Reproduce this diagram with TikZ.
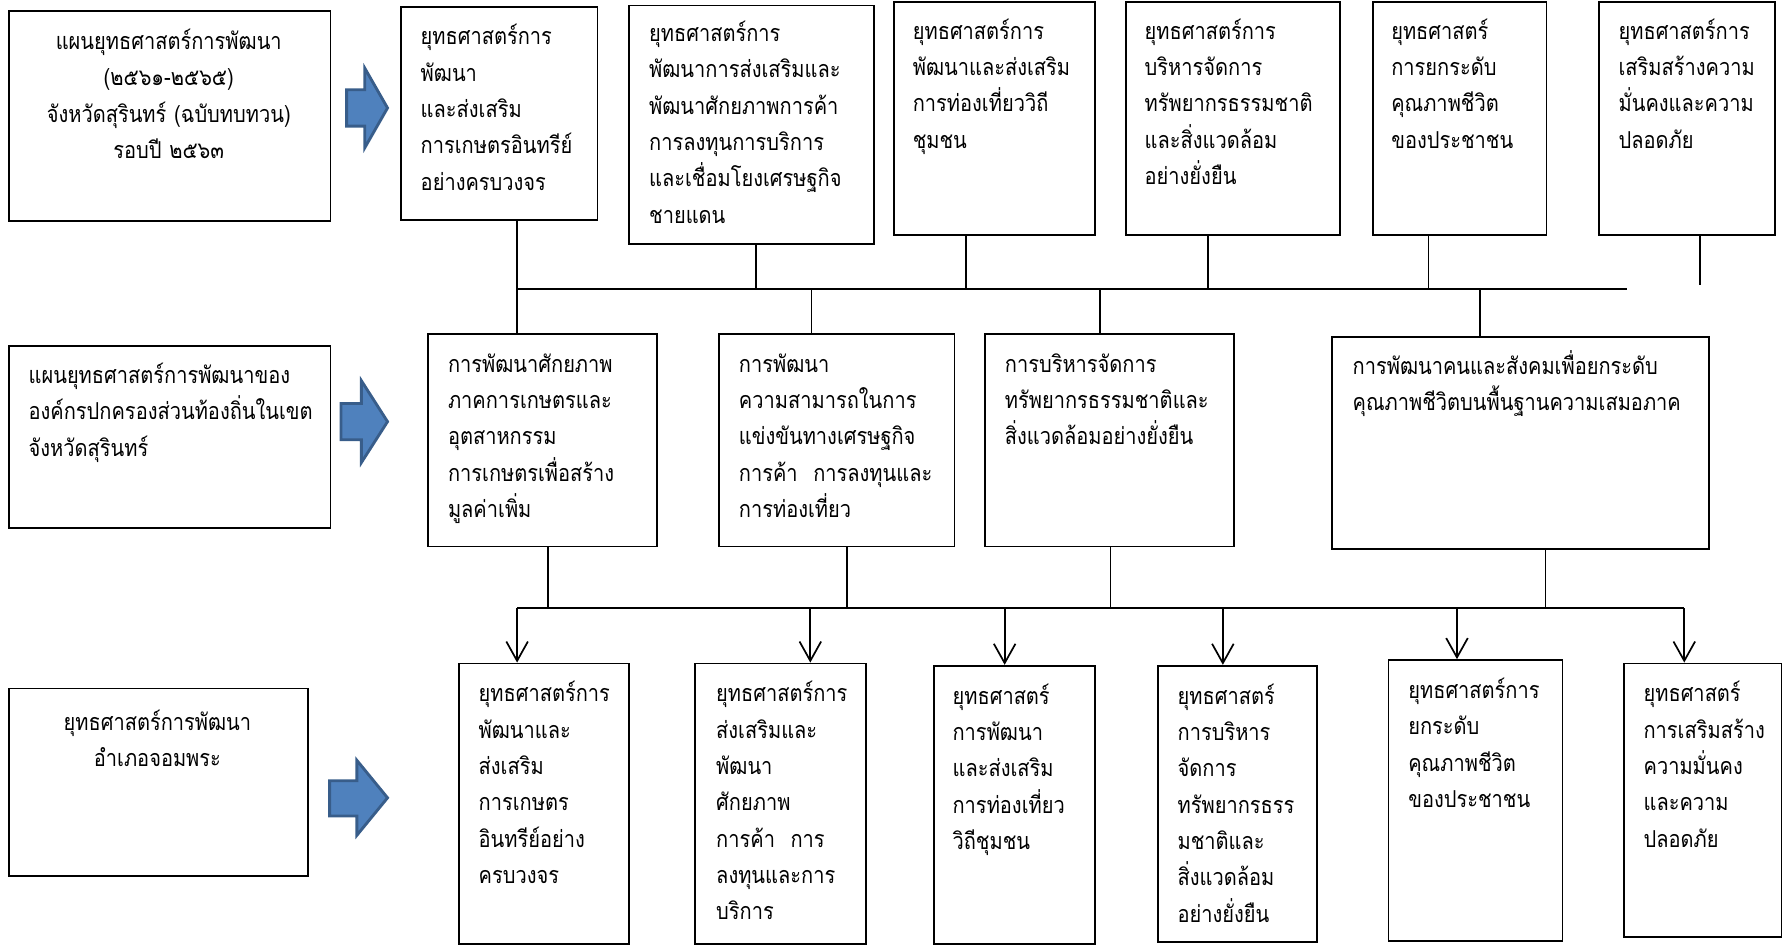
\documentclass[tikz,border=0pt]{standalone}
\usepackage{fontspec}
\newfontfamily\thaifont[Script=Thai,FakeStretch=0.86]{Loma}
\usetikzlibrary{arrows.meta}
\definecolor{arrfill}{HTML}{4F81BD}
\definecolor{arrdraw}{HTML}{385D8A}
\begin{document}
\begin{tikzpicture}[x=1pt,y=-1pt,
  box/.style={draw=black, line width=1.6pt, fill=white, rectangle, anchor=north west, inner sep=0pt},
  txt/.style={anchor=base west, inner sep=0pt, align=left, font=\thaifont\fontsize{20.5}{32}\selectfont},
  ctxt/.style={anchor=base, inner sep=0pt, align=center, font=\thaifont\fontsize{20.5}{32}\selectfont},
  conn/.style={draw=black, line width=1.5pt},
  darr/.style={conn, -{Straight Barb[length=17pt,width=19pt]}},
  blk/.style={fill=arrfill, draw=arrdraw, line width=2.5pt, line join=miter}]
\useasboundingbox (0,0) rectangle (1568,835);
% ---------- boxes row 1
\node[box, minimum width=283pt, minimum height=185pt] (l1) at (7,9) {};
\node[box, minimum width=173pt, minimum height=188pt] (t1) at (352,5) {};
\node[box, minimum width=215pt, minimum height=210pt] (t2) at (553,4) {};
\node[box, minimum width=177pt, minimum height=205pt] (t3) at (786,1) {};
\node[box, minimum width=188pt, minimum height=205pt] (t4) at (990,1) {};
\node[box, minimum width=153pt, minimum height=205pt] (t5) at (1207,1) {};
\node[box, minimum width=155pt, minimum height=205pt] (t6) at (1406,1) {};
% ---------- boxes row 2
\node[box, minimum width=283pt, minimum height=160pt] (l2) at (7,304) {};
\node[box, minimum width=201pt, minimum height=187pt] (m1) at (376,293) {};
\node[box, minimum width=207pt, minimum height=187pt] (m2) at (632,293) {};
\node[box, minimum width=219pt, minimum height=187pt] (m3) at (866,293) {};
\node[box, minimum width=332pt, minimum height=186pt] (m4) at (1171,296) {};
% ---------- boxes row 3
\node[box, minimum width=263pt, minimum height=165pt] (l3) at (7,605) {};
\node[box, minimum width=150pt, minimum height=247pt] (b1) at (403,583) {};
\node[box, minimum width=150pt, minimum height=247pt] (b2) at (611,583) {};
\node[box, minimum width=142pt, minimum height=245pt] (b3) at (821,585) {};
\node[box, minimum width=140pt, minimum height=243pt] (b4) at (1018,585) {};
\node[box, minimum width=153pt, minimum height=247pt] (b5) at (1221,580) {};
\node[box, minimum width=139pt, minimum height=241pt] (b6) at (1428,583) {};
% ---------- texts
\node[ctxt, text width=283pt] (l1t) at (148.5,43.5) {แผนยุทธศาสตร์การพัฒนา\\(๒๕๖๑-๒๕๖๕)\\จังหวัดสุรินทร์~(ฉบับทบทวน)\\รอบปี~๒๕๖๓};
\node[txt, text width=150pt] (t1t) at (370,39.5) {ยุทธศาสตร์การ\\พัฒนา\\และส่งเสริม\\การเกษตรอินทรีย์\\อย่างครบวงจร};
\node[txt, text width=192pt] (t2t) at (571,36.5) {ยุทธศาสตร์การ\\พัฒนาการส่งเสริมและ\\พัฒนาศักยภาพการค้า\\การลงทุนการบริการ\\และเชื่อมโยงเศรษฐกิจ\\ชายแดน};
\node[txt, text width=156pt] (t3t) at (803,34.5) {ยุทธศาสตร์การ\\พัฒนาและส่งเสริม\\การท่องเที่ยววิถี\\ชุมชน};
\node[txt, text width=167pt] (t4t) at (1007,34.5) {ยุทธศาสตร์การ\\บริหารจัดการ\\ทรัพยากรธรรมชาติ\\และสิ่งแวดล้อม\\อย่างยั่งยืน};
\node[txt, text width=132pt] (t5t) at (1224,34.5) {ยุทธศาสตร์\\การยกระดับ\\คุณภาพชีวิต\\ของประชาชน};
\node[txt, text width=134pt] (t6t) at (1424,34.5) {ยุทธศาสตร์การ\\เสริมสร้างความ\\มั่นคงและความ\\ปลอดภัย};
\node[txt, text width=262pt] (l2t) at (25,337.5) {แผนยุทธศาสตร์การพัฒนาของ\\องค์กรปกครองส่วนท้องถิ่นในเขต\\จังหวัดสุรินทร์};
\node[txt, text width=180pt] (m1t) at (394,327.5) {การพัฒนาศักยภาพ\\ภาคการเกษตรและ\\อุตสาหกรรม\\การเกษตรเพื่อสร้าง\\มูลค่าเพิ่ม};
\node[txt, text width=186pt] (m2t) at (650,327.5) {การพัฒนา\\ความสามารถในการ\\แข่งขันทางเศรษฐกิจ\\การค้า~~การลงทุนและ\\การท่องเที่ยว};
\node[txt, text width=198pt] (m3t) at (884,327.5) {การบริหารจัดการ\\ทรัพยากรธรรมชาติและ\\สิ่งแวดล้อมอย่างยั่งยืน};
\node[txt, text width=310pt] (m4t) at (1190,329.5) {การพัฒนาคนและสังคมเพื่อยกระดับ\\คุณภาพชีวิตบนพื้นฐานความเสมอภาค};
\node[ctxt, text width=263pt] (l3t) at (138.5,642.5) {ยุทธศาสตร์การพัฒนา\\อำเภอจอมพระ};
\node[txt, text width=130pt] (b1t) at (421,617.5) {ยุทธศาสตร์การ\\พัฒนาและ\\ส่งเสริม\\การเกษตร\\อินทรีย์อย่าง\\ครบวงจร};
\node[txt, text width=130pt] (b2t) at (630,617.5) {ยุทธศาสตร์การ\\ส่งเสริมและ\\พัฒนา\\ศักยภาพ\\การค้า~~การ\\ลงทุนและการ\\บริการ};
\node[txt, text width=124pt] (b3t) at (838,619.5) {ยุทธศาสตร์\\การพัฒนา\\และส่งเสริม\\การท่องเที่ยว\\วิถีชุมชน};
\node[txt, text width=122pt] (b4t) at (1036,619.5) {ยุทธศาสตร์\\การบริหาร\\จัดการ\\ทรัพยากรธรร\\มชาติและ\\สิ่งแวดล้อม\\อย่างยั่งยืน};
\node[txt, text width=134pt] (b5t) at (1239,614.5) {ยุทธศาสตร์การ\\ยกระดับ\\คุณภาพชีวิต\\ของประชาชน};
\node[txt, text width=120pt] (b6t) at (1446,617.5) {ยุทธศาสตร์\\การเสริมสร้าง\\ความมั่นคง\\และความ\\ปลอดภัย};
% ---------- block arrows
\draw[blk] (305,79) -- (321,79) -- (321,60) -- (341,95) -- (321,130) -- (321,111) -- (305,111) -- cycle;
\draw[blk] (300,355) -- (318,355) -- (318,335) -- (341,371) -- (318,407) -- (318,387) -- (300,387) -- cycle;
\draw[blk] (290,687) -- (314,687) -- (314,669) -- (341,702) -- (314,735) -- (314,718) -- (290,718) -- cycle;
% ---------- upper bus
\coordinate (ua) at (455,254);
\coordinate (ub) at (665,254);
\coordinate (uc) at (850,254);
\coordinate (ud) at (1063,254);
\coordinate (ue) at (1257,254);
\coordinate (uf) at (1496,251);
\coordinate (uend) at (1432,254);
\coordinate (dm2) at (714,254);
\coordinate (dm3) at (968,254);
\coordinate (dm4) at (1302,254);
\draw[conn] (ua) -- (uend);
\draw[conn] (t1.south -| ua) -- (ua);
\draw[conn] (t2.south -| ub) -- (ub);
\draw[conn] (t3.south -| uc) -- (uc);
\draw[conn] (t4.south -| ud) -- (ud);
\draw[conn] (t5.south -| ue) -- (ue);
\draw[conn] (t6.south -| uf) -- (uf);
\draw[conn] (ua) -- (m1.north -| ua);
\draw[conn] (dm2) -- (m2.north -| dm2);
\draw[conn] (dm3) -- (m3.north -| dm3);
\draw[conn] (dm4) -- (m4.north -| dm4);
% ---------- lower bus
\coordinate (la) at (482,535);
\coordinate (lb) at (745,535);
\coordinate (lc) at (977,535);
\coordinate (ld) at (1360,535);
\coordinate (a1) at (455,535);
\coordinate (a2) at (713,535);
\coordinate (a3) at (884,535);
\coordinate (a4) at (1076,535);
\coordinate (a5) at (1282,535);
\coordinate (a6) at (1482,535);
\draw[conn] (a1) -- (a6);
\draw[conn] (m1.south -| la) -- (la);
\draw[conn] (m2.south -| lb) -- (lb);
\draw[conn] (m3.south -| lc) -- (lc);
\draw[conn] (m4.south -| ld) -- (ld);
\draw[darr] (a1) -- (b1.north -| a1);
\draw[darr] (a2) -- (b2.north -| a2);
\draw[darr] (a3) -- (b3.north -| a3);
\draw[darr] (a4) -- (b4.north -| a4);
\draw[darr] (a5) -- (b5.north -| a5);
\draw[darr] (a6) -- (b6.north -| a6);
\end{tikzpicture}
\end{document}
